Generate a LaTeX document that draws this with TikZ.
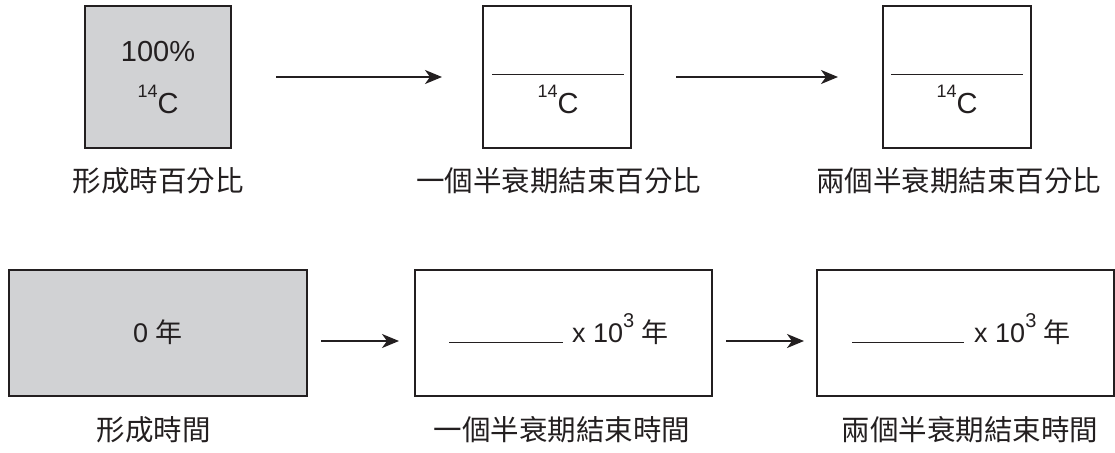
\documentclass[tikz,border=0pt]{standalone}
\usepackage{fontspec}
\setmainfont{Liberation Sans}
\newfontfamily\cjk{Noto Sans CJK TC}
\usetikzlibrary{arrows.meta}
\definecolor{boxgray}{HTML}{D1D2D4}
\definecolor{ink}{HTML}{231F20}
\tikzset{
  box/.style={draw=ink, line width=2pt, inner sep=0pt},
  grayfill/.style={fill=boxgray},
  lbl/.style={font=\cjk\fontsize{28.5}{32}\selectfont, text=ink, inner sep=0pt},
  txt/.style={font=\fontsize{29}{34}\selectfont, text=ink, inner sep=0pt},
  txtb/.style={font=\fontsize{27}{32}\selectfont, text=ink, inner sep=0pt},
  arr/.style={draw=ink, line width=2pt, -{Stealth[length=17pt,width=14pt,inset=5pt]}},
  thin/.style={draw=ink, line width=1pt}
}
\newcommand{\cfourteen}{\raisebox{0.55em}{\fontsize{18}{20}\selectfont 14}C}
\newcommand{\tenthree}{x 10\raisebox{0.55em}{\fontsize{20}{22}\selectfont 3}}
\begin{document}
\begin{tikzpicture}[x=1pt,y=-1pt]
\useasboundingbox (0,0) rectangle (1115,452);
% top row
\node[box,grayfill,minimum width=146pt,minimum height=141pt] (t1) at (158,77) {};
\node[box,minimum width=148pt,minimum height=142pt] (t2) at (557,77) {};
\node[box,minimum width=148pt,minimum height=142pt] (t3) at (957,77) {};
\node[txt] (p100) at (158,52) {100\%};
\node[txt,anchor=base] (c1) at (158,113) {\cfourteen};
\coordinate (l2a) at (492,74); \coordinate (l2b) at (624,74);
\draw[thin] (l2a) -- (l2b);
\node[txt,anchor=base] (c2) at (558,113) {\cfourteen};
\coordinate (l3a) at (891,74); \coordinate (l3b) at (1023,74);
\draw[thin] (l3a) -- (l3b);
\node[txt,anchor=base] (c3) at (957,113) {\cfourteen};
\draw[arr, shorten <=44pt, shorten >=40pt] (t1.east |- 0,77) -- (t2.west |- 0,77);
\draw[arr, shorten <=44pt, shorten >=44pt] (t2.east |- 0,77) -- (t3.west |- 0,77);
\node[lbl] (n1) at (158,181) {形成時百分比};
\node[lbl] (n2) at (558.5,181) {一個半衰期結束百分比};
\node[lbl] (n3) at (958.5,181) {兩個半衰期結束百分比};
% bottom row
\node[box,grayfill,minimum width=298pt,minimum height=126pt] (b1) at (158,333) {};
\node[box,minimum width=297pt,minimum height=126pt] (b2) at (563.5,333) {};
\node[box,minimum width=297pt,minimum height=126pt] (b3) at (965.5,333) {};
\node[txtb,anchor=base] (y0) at (158,342) {0 {\cjk 年}};
\coordinate (m2a) at (449,342); \coordinate (m2b) at (563,342);
\draw[thin] (m2a) -- (m2b);
\node[txtb,anchor=base west] (y2) at (572,342) {\tenthree\ {\cjk 年}};
\coordinate (m3a) at (852,342); \coordinate (m3b) at (964,342);
\draw[thin] (m3a) -- (m3b);
\node[txtb,anchor=base west] (y3) at (974,342) {\tenthree\ {\cjk 年}};
\draw[arr, shorten <=13pt, shorten >=15pt] (b1.east |- 0,341) -- (b2.west |- 0,341);
\draw[arr, shorten <=13pt, shorten >=12pt] (b2.east |- 0,341) -- (b3.west |- 0,341);
\node[lbl] (s1) at (153.5,430) {形成時間};
\node[lbl] (s2) at (562,430) {一個半衰期結束時間};
\node[lbl] (s3) at (970,430) {兩個半衰期結束時間};
\end{tikzpicture}
\end{document}
